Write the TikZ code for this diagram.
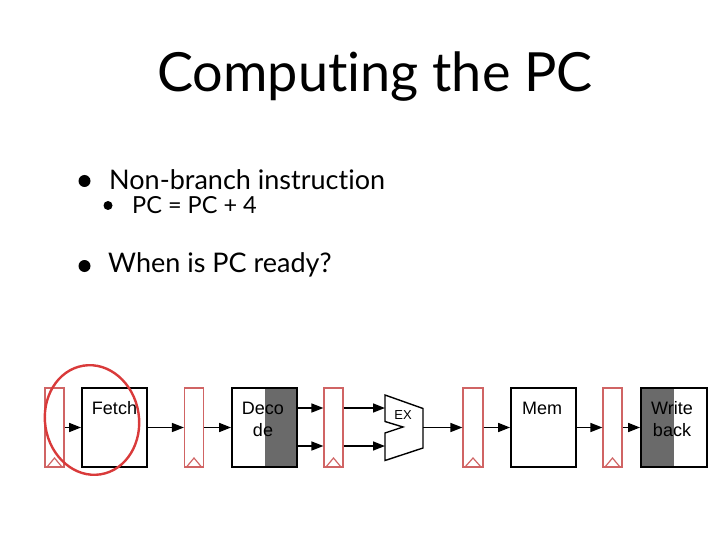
\documentclass[tikz,border=0pt]{standalone}
\usepackage{fontspec}
\setmainfont{Lato}[Ligatures=NoCommon]
\newfontfamily\diagfont{Liberation Sans}
\usetikzlibrary{arrows.meta,positioning,backgrounds}
\definecolor{pcRed}  {HTML}{D93A3A}
\definecolor{pcReg}  {HTML}{D06464}
\definecolor{pcShade}{HTML}{6A6A6A}

\begin{document}
\begin{tikzpicture}[x=1pt,y=-1pt,
      stage/.style={draw,line width=1.8pt,minimum width=65pt,minimum height=79pt,inner sep=0pt},
      pipereg/.style={draw=pcReg,line width=1.2pt,fill=white,minimum width=19pt,
                      minimum height=79pt,inner sep=0pt,
                      path picture={\draw[pcReg,line width=1.2pt]
                        ([xshift=2pt]path picture bounding box.south west)
                        -- ([yshift=9pt]path picture bounding box.south)
                        -- ([xshift=-2pt]path picture bounding box.south east);}},
      lbl/.style={font=\diagfont\fontsize{18}{22}\selectfont,align=center,anchor=north,inner sep=0pt},
      pipe/.style={-{Triangle[length=12pt,width=9pt]},line width=1.6pt},
      dot/.style={circle,fill,inner sep=0pt}]

    \useasboundingbox (0,0) rectangle (720,540);

    % slide text
    \node[anchor=base,font=\fontsize{54}{60}\selectfont] (title) at (375,92) {Computing the PC};

    \node[dot,minimum size=12pt] (bulA) at (84.5,181) {};
    \node[anchor=base west,inner sep=0pt,font=\fontsize{27}{30}\selectfont] (itemA) at (109,190)
      {Non-branch instruction};
    \node[dot,minimum size=9pt] (bulB) at (108,205.5) {};
    \node[anchor=base west,inner sep=0pt,font=\fontsize{23.5}{26}\selectfont] (itemB) at (132,213.5)
      {PC = PC + 4};
    \node[dot,minimum size=12pt] (bulC) at (84.5,266) {};
    \node[anchor=base west,inner sep=0pt,font=\fontsize{27}{30}\selectfont] (itemC) at (108,272)
      {When is PC ready?};

    % pipeline
    \node[pipereg] (regA) at (54.5,427.5) {};
    \node[stage] (fetch) at (114.5,427.5) {};
    \node[pipereg] (regB) at (194,427.5) {};
    \node[stage] (decode) at (264.5,427.5) {};
    \node[pipereg] (regC) at (333.5,427.5) {};
    \node[pipereg,minimum width=20pt] (regD) at (473,427.5) {};
    \node[stage] (mem) at (543.5,427.5) {};
    \node[pipereg] (regE) at (612.5,427.5) {};
    \node[stage,minimum width=66pt] (wback) at (674,427.5) {};

    \begin{scope}[on background layer]
      \fill[pcShade] (decode.north) rectangle (decode.south east);
      \fill[pcShade] (wback.north west) rectangle (wback.south);
    \end{scope}

    \node[lbl] (fetchlbl) at (114.5,401.5) {Fetch};
    \node[lbl] (decodelbl) at (263,401.5) {Deco\\de};
    \node[lbl] (memlbl) at (542,401.5) {Mem};
    \node[lbl] (wbacklbl) at (672,401.5) {Write\\back};

    % execute unit
    \draw[line width=1.4pt] (385,395) -- (423,408.5) -- (423,448) -- (385,460.5)
      -- (385,433) -- (403,427) -- (385,421.5) -- cycle;
    \node[font=\diagfont\fontsize{13}{15}\selectfont] (exlbl) at (403,415) {EX};
    \coordinate (exA) at (385,408);
    \coordinate (exB) at (385,446);
    \coordinate (exOut) at (423,427.5);

    \draw[pipe] (regA) -- (fetch);
    \draw[pipe] (fetch) -- (regB);
    \draw[pipe] (regB) -- (decode);
    \draw[pipe] ([yshift=19.5pt]decode.east) -- ([yshift=19.5pt]regC.west);
    \draw[pipe] ([yshift=-18.5pt]decode.east) -- ([yshift=-18.5pt]regC.west);
    \draw[pipe] ([yshift=19.5pt]regC.east) -- (exA);
    \draw[pipe] ([yshift=-18.5pt]regC.east) -- (exB);
    \draw[pipe] (exOut) -- (regD);
    \draw[pipe] (regD) -- (mem);
    \draw[pipe] (mem) -- (regE);
    \draw[pipe] (regE) -- (wback);

    \draw[pcRed,line width=2.4pt] (92,420) circle [x radius=47,y radius=55,rotate=9];
  \end{tikzpicture}
\end{document}
